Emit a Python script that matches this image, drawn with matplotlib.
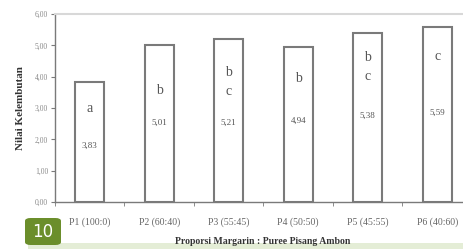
import matplotlib
matplotlib.use("Agg")
import matplotlib.pyplot as plt
from matplotlib.patches import FancyBboxPatch, Rectangle

# data
kategori = ["P1 (100:0)", "P2 (60:40)", "P3 (55:45)", "P4 (50:50)", "P5 (45:55)", "P6 (40:60)"]
nilai = [3.83, 5.01, 5.21, 4.94, 5.38, 5.59]
label_nilai = ["3,83", "5,01", "5,21", "4,94", "5,38", "5,59"]
notasi = [["a"], ["b"], ["b", "c"], ["b"], ["b", "c"], ["c"]]
y_ticks = [0, 1, 2, 3, 4, 5, 6]
y_ticklabels = ["0,00", "1,00", "2,00", "3,00", "4,00", "5,00", "6,00"]

# letak teks notasi (di dalam batang)
notasi_y = [3.0, 3.57, 4.12, 3.93, 4.6, 4.63]
nilai_y = [1.79, 2.52, 2.52, 2.6, 2.74, 2.84]

plt.rcParams["font.family"] = ["Liberation Serif", "DejaVu Serif"]
gray = "#7a7a7a"

fig = plt.figure(figsize=(4.64, 2.49), dpi=100)
ax = fig.add_axes([55 / 464, 47 / 249, 417 / 464, 188 / 249])

x = range(len(kategori))
ax.bar(x, nilai, width=0.42, color="white", edgecolor=gray, linewidth=1.5, zorder=2)

for i in x:
    for j, h in enumerate(notasi[i]):
        ax.text(i, notasi_y[i] - j * 0.58, h, ha="center", va="center",
                fontsize=10, color="#555555", zorder=3)
    ax.text(i, nilai_y[i], label_nilai[i], ha="center", va="center",
            fontsize=6.5, color="#555555", zorder=3)

ax.set_xlim(-0.5, len(kategori) - 0.5)
ax.set_ylim(0, 6)
ax.set_yticks(y_ticks)
ax.set_yticklabels(y_ticklabels)
ax.set_xticks(list(x))
ax.set_xticklabels(kategori)
ax.set_xticks([i + 0.5 for i in range(-1, len(kategori))], minor=True)
ax.tick_params(axis="x", which="major", length=0, labelsize=7, labelcolor="#666666", pad=11)
ax.tick_params(axis="x", which="minor", length=3, color=gray, direction="out")
ax.tick_params(axis="y", length=3, color=gray, labelsize=5.5, labelcolor="#888888", pad=2)

for s in ["left", "bottom"]:
    ax.spines[s].set_color(gray)
    ax.spines[s].set_linewidth(1.0)
ax.spines["top"].set_color("#d8d8d8")
ax.spines["top"].set_linewidth(1.5)
ax.spines["right"].set_visible(False)

ax.set_ylabel("Nilai Kelembutan", fontsize=8, fontweight="bold", color="#333333", labelpad=7)
fig.text(263 / 464, 1 - 241 / 249, "Proporsi Margarin : Puree Pisang Ambon",
         ha="center", va="center", fontsize=7, fontweight="bold", color="#333333")

# pita hijau muda di bawah
fig.patches.append(Rectangle((28 / 464, 0), 1, 6 / 249, transform=fig.transFigure,
                             facecolor="#e4edd6", edgecolor="none"))
# kotak nomor halaman
fig.patches.append(FancyBboxPatch((25 / 464, 4 / 249), 36 / 464, 27 / 249,
                                  boxstyle="round,pad=0,rounding_size=0.012",
                                  transform=fig.transFigure, facecolor="#6b8e2b", edgecolor="none"))
fig.text(43 / 464, 17.5 / 249, "10", ha="center", va="center", fontsize=12,
         color="white", family="DejaVu Sans")

fig.savefig("out.png", dpi=100)
